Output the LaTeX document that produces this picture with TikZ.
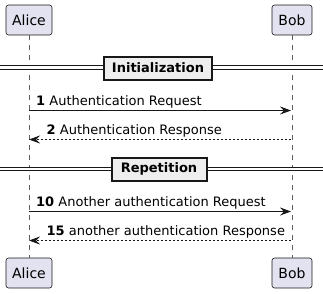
\documentclass[tikz,border=0pt]{standalone}
\usepackage{fontspec}
\setmainfont{DejaVu Sans}
\usetikzlibrary{arrows.meta}
\definecolor{partfill}{HTML}{E2E2F0}
\definecolor{ink}{HTML}{181818}
\definecolor{divfill}{HTML}{EEEEEE}
\tikzset{
  actor/.style={draw=ink, fill=partfill, rounded corners=2.5pt, line width=0.6pt,
    minimum height=30pt, inner sep=0pt, font=\fontsize{14}{16}\selectfont, text=black},
  lifeline/.style={draw=ink!70, line width=0.5pt, dash pattern=on 5pt off 5pt},
  divbox/.style={draw=ink, fill=divfill, line width=2pt, inner sep=0pt,
    font=\bfseries\fontsize{13}{15}\selectfont},
  msg/.style={draw=ink, line width=0.8pt, -{Stealth[length=11pt,width=8pt,inset=4pt]}},
  reply/.style={msg, dash pattern=on 2pt off 2pt},
  lbl/.style={anchor=base west, inner sep=0pt, font=\fontsize{13}{15}\selectfont}
}
\begin{document}
\begin{tikzpicture}[x=1pt,y=-1pt]
\useasboundingbox (0,0) rectangle (323,293);
% actors
\node[actor, minimum width=46pt] (at) at (29,20) {Alice};
\node[actor, minimum width=40pt] (bt) at (292,20) {Bob};
\node[actor, minimum width=46pt] (ab) at (29,273) {Alice};
\node[actor, minimum width=40pt] (bb) at (292,273) {Bob};
\draw[lifeline] (at.south) -- (ab.north);
\draw[lifeline] (bt.south) -- (bb.north);
% divider 1
\coordinate (d1l) at (0,67.5);
\coordinate (d1r) at (323,67.5);
\draw[ink, line width=0.8pt, double distance=2.6pt] (d1l) -- (d1r);
\node[divbox, minimum width=108pt, minimum height=23pt] (d1) at (158,68) {Initialization};
% messages
\coordinate (a1) at (29,110.5);
\coordinate (b1) at (291,110.5);
\draw[msg] (a1) -- (b1);
\node[lbl] (m1) at (36,105.5) {\textbf{1} Authentication Request};
\coordinate (a2) at (29,139.5);
\coordinate (b2) at (291,139.5);
\draw[reply] (b2) -- (a2);
\node[lbl] (m2) at (46.5,134.5) {\textbf{2} Authentication Response};
% divider 2
\coordinate (d2l) at (0,169);
\coordinate (d2r) at (323,169);
\draw[ink, line width=0.8pt, double distance=2.6pt] (d2l) -- (d2r);
\node[divbox, minimum width=95pt, minimum height=23pt] (d2) at (159,169) {Repetition};
% messages 2
\coordinate (a3) at (29,211.5);
\coordinate (b3) at (291,211.5);
\draw[msg] (a3) -- (b3);
\node[lbl] (m3) at (36,206.5) {\textbf{10} Another authentication Request};
\coordinate (a4) at (29,240.5);
\coordinate (b4) at (291,240.5);
\draw[reply] (b4) -- (a4);
\node[lbl] (m4) at (46.5,235.5) {\textbf{15} another authentication Response};
\end{tikzpicture}
\end{document}
